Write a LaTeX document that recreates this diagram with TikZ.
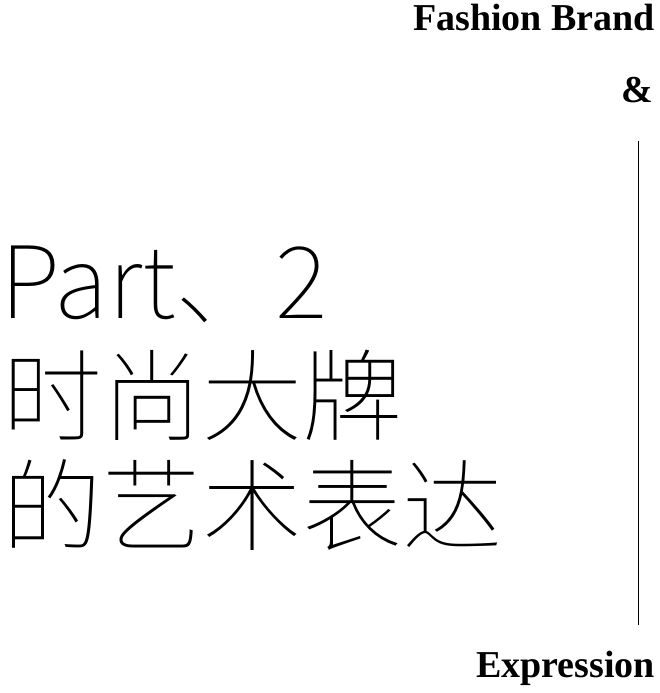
\documentclass[tikz,border=0pt]{standalone}
\usepackage{fontspec}
\setmainfont{Liberation Serif}
\newfontfamily\cjk{Noto Sans CJK SC Thin}
\tikzset{serift/.style={font=\bfseries\fontsize{38}{38}\selectfont, inner sep=0, anchor=base east},
 cjkt/.style={font=\cjk\fontsize{100}{100}\selectfont, inner sep=0, anchor=west}}
\begin{document}
\begin{tikzpicture}[x=1pt,y=-1pt]
\useasboundingbox (0,0) rectangle (660,693);
\node[serift] (fb) at (655,31) {Fashion Brand};
\node[serift] (amp) at (653,102) {\&};
\node[serift] (ex) at (655,677) {Expression};
\coordinate (l1) at (638,141);
\coordinate (l2) at (638,625);
\draw[line width=1pt] (l1) -- (l2);
\node[font=\cjk\fontsize{100}{100}\selectfont, inner sep=0, anchor=base west] (p) at (0,318) {Part、2};
\node[cjkt] (c1) at (2,395) {时尚大牌};
\node[cjkt] (c2) at (2,505) {的艺术表达};
\end{tikzpicture}
\end{document}
